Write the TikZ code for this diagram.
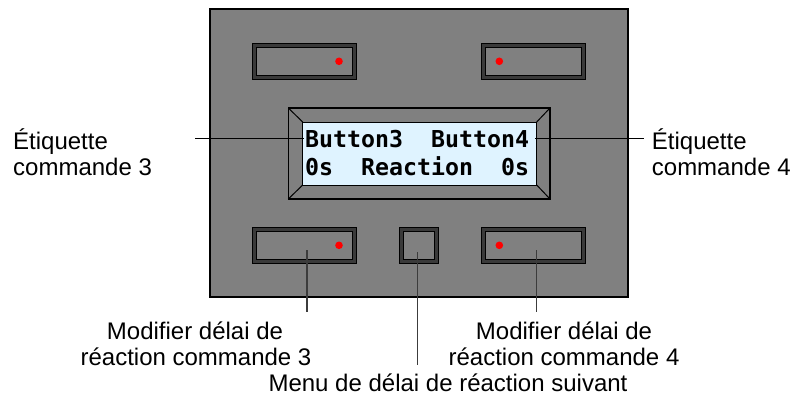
\documentclass[tikz,border=0pt]{standalone}
\usepackage{fontspec}
\setmainfont{Liberation Sans}
\newfontfamily\lcdfont{DejaVu Sans Mono}
\definecolor{panelgray}{HTML}{808080}
\definecolor{btnband}{HTML}{3A3A3A}
\definecolor{screenblue}{HTML}{DFF3FF}
\definecolor{leadgray}{HTML}{3C3C3C}
\begin{document}
\begin{tikzpicture}[x=1pt,y=-1pt,
  panelbox/.style={fill=panelgray,draw=black,line width=1.3pt},
  btnouter/.style={fill=btnband,draw=black,line width=1.3pt},
  btninner/.style={fill=panelgray,draw=black,line width=1pt},
  ledspot/.style={fill=red,draw=none},
  bezelbox/.style={fill=panelgray,draw=black,line width=1.3pt},
  screenbox/.style={fill=screenblue,draw=black,line width=0.9pt},
  bezeldiag/.style={draw=black,line width=1pt},
  lbltext/.style={font=\fontsize{24}{26}\selectfont,inner sep=0pt},
  lcdtext/.style={font=\lcdfont\bfseries\fontsize{23.25}{26}\selectfont,inner sep=0pt,anchor=base west},
  leaderside/.style={draw=black,line width=0.9pt},
  leaderbot/.style={draw=leadgray,line width=1.2pt}]
\useasboundingbox (0,0) rectangle (792,396);
% panel
\path[panelbox] (210,9) rectangle (628,297);
% buttons
\foreach \xa/\ya/\xb/\yb in {252.3/43.3/356.7/79.3, 481.7/43.3/585.7/79.3,
    252.3/227.3/356.7/263.3, 399.7/227.3/438.7/263.3, 481.7/227.3/585.7/263.3}{
  \path[btnouter] (\xa,\ya) rectangle (\xb,\yb);
  \path[btninner] (\xa+3.8,\ya+3.8) rectangle (\xb-3.8,\yb-3.8);
}
% red dots
\foreach \px/\py in {339/61.3, 499.3/61.3, 339/245.3, 499.3/245.3}{
  \fill[ledspot] (\px,\py) circle[radius=3.8];
}
% LCD
\coordinate (bo1) at (288.3,108);
\coordinate (bo2) at (550,108);
\coordinate (bo3) at (550,199);
\coordinate (bo4) at (288.3,199);
\coordinate (si1) at (302.7,122);
\coordinate (si2) at (536.7,122);
\coordinate (si3) at (536.7,185);
\coordinate (si4) at (302.7,185);
\path[bezelbox] (bo1) rectangle (bo3);
\path[screenbox] (si1) rectangle (si3);
\draw[bezeldiag] (bo1) -- (si1);
\draw[bezeldiag] (bo2) -- (si2);
\draw[bezeldiag] (bo3) -- (si3);
\draw[bezeldiag] (bo4) -- (si4);
% LCD text
\node[lcdtext] (t1) at (305,147) {Button3};
\node[lcdtext] (t2) at (305+9*14,147) {Button4};
\node[lcdtext] (t3) at (305,175) {0s};
\node[lcdtext] (t4) at (305+4*14,175) {Reaction};
\node[lcdtext] (t5) at (305+14*14,175) {0s};
% side labels
\node[lbltext,anchor=base west] (l3a) at (13,149) {Étiquette};
\node[lbltext,anchor=base west] (l3b) at (13,175) {commande 3};
\node[lbltext,anchor=base west] (l4a) at (651.7,149) {Étiquette};
\node[lbltext,anchor=base west] (l4b) at (651.7,175) {commande 4};
% bottom labels
\node[lbltext,anchor=base] (m3a) at (195,339) {Modifier délai de};
\node[lbltext,anchor=base] (m3b) at (196,365.5) {réaction commande 3};
\node[lbltext,anchor=base] (m4a) at (564,339) {Modifier délai de};
\node[lbltext,anchor=base] (m4b) at (564,365.5) {réaction commande 4};
\node[lbltext,anchor=base] (mn) at (448,391) {Menu de délai de réaction suivant};
% leaders
\coordinate (e3) at (195.3,138.3);
\coordinate (s3) at (304,138.3);
\coordinate (e4) at (644,138.3);
\coordinate (s4) at (535,138.3);
\draw[leaderside] (e3) -- (s3);
\draw[leaderside] (s4) -- (e4);
\coordinate (b3s) at (307,250);
\coordinate (b3e) at (307,311.7);
\coordinate (bms) at (417.7,252);
\coordinate (bme) at (417.7,365);
\coordinate (b4s) at (536.7,250);
\coordinate (b4e) at (536.7,311.7);
\draw[leaderbot] (b3s) -- (b3e);
\draw[leaderbot] (bms) -- (bme);
\draw[leaderbot] (b4s) -- (b4e);
\end{tikzpicture}
\end{document}
